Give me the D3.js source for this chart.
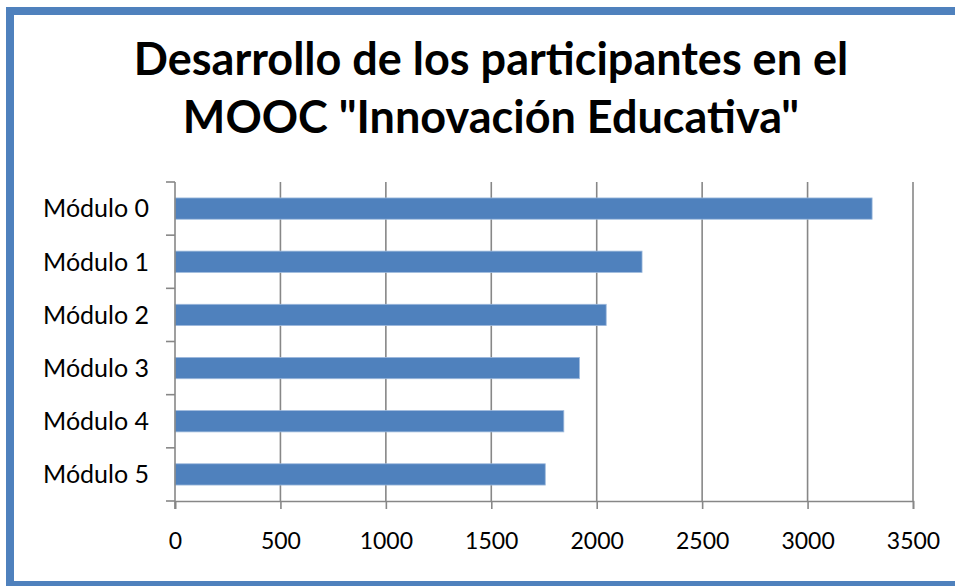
<!DOCTYPE html>
<html lang="es">
<head>
<meta charset="UTF-8">
<title>MOOC Innovación Educativa</title>
<script src="https://cdnjs.cloudflare.com/ajax/libs/d3/7.8.5/d3.min.js"></script>
<style>
  body { margin: 0; background: #fff; }
  svg { display: block; }
  .lbl { font-family: Lato, "Liberation Sans", sans-serif; fill: #000; }
</style>
</head>
<body>
<div id="chart"></div>
<script>
// data
var modulos = ["Módulo 0", "Módulo 1", "Módulo 2", "Módulo 3", "Módulo 4", "Módulo 5"];
var participantes = [3306, 2215, 2045, 1918, 1844, 1756];
var xTicks = [0, 500, 1000, 1500, 2000, 2500, 3000, 3500];
var tituloLineas = ["Desarrollo de los participantes en el", "MOOC \"Innovación Educativa\""];

var W = 955, H = 586;
var margin = { top: 182, left: 175, right: 955 - 913, bottom: 586 - 501 };
var width = W - margin.left - margin.right,
    height = H - margin.top - margin.bottom;

var svg = d3.select("#chart").append("svg")
    .attr("width", W)
    .attr("height", H);

// outer frame
svg.append("rect")
    .attr("x", 10).attr("y", 11)
    .attr("width", 960).attr("height", 574)
    .attr("fill", "none")
    .attr("stroke", "#4F81BD")
    .attr("stroke-width", 8);

// title
svg.append("g").selectAll("text")
    .data(tituloLineas)
    .enter().append("text")
    .attr("class", "lbl")
    .attr("x", 491)
    .attr("y", function (d, i) { return 75 + i * 58; })
    .attr("text-anchor", "middle")
    .style("font-size", "45px")
    .style("font-weight", "bold")
    .text(function (d) { return d; });

var g = svg.append("g")
    .attr("transform", "translate(" + margin.left + "," + margin.top + ")");

var x = d3.scaleLinear().domain([0, 3500]).range([0, width]);
var y = d3.scaleBand().domain(modulos).range([0, height])
    .paddingInner(0.6).paddingOuter(0.3);

var grey = "#878787";

// vertical gridlines
g.selectAll(".grid")
    .data(xTicks.slice(1))
    .enter().append("line")
    .attr("x1", function (d) { return x(d); })
    .attr("x2", function (d) { return x(d); })
    .attr("y1", 0).attr("y2", height)
    .attr("stroke", grey)
    .attr("stroke-width", 1.6);

// bars
g.selectAll(".bar")
    .data(participantes)
    .enter().append("rect")
    .attr("x", x(0))
    .attr("y", function (d, i) { return y(modulos[i]); })
    .attr("width", function (d) { return x(d) - x(0); })
    .attr("height", y.bandwidth())
    .attr("fill", "#4F81BD")
    .attr("stroke", "#9DB9DC")
    .attr("stroke-width", 0.8);

// x axis
var xAxis = g.append("g")
    .attr("transform", "translate(0," + height + ")")
    .call(d3.axisBottom(x).tickValues(xTicks).tickFormat(d3.format("d"))
        .tickSize(8).tickPadding(24));
xAxis.select(".domain").attr("stroke", grey).attr("stroke-width", 1.6);
xAxis.selectAll(".tick line").attr("stroke", grey).attr("stroke-width", 1.6);
xAxis.selectAll("text").attr("class", "lbl").attr("fill", "#000")
    .style("font-size", "23px");

// y axis with ticks on category boundaries
var yAxisG = g.append("g");
yAxisG.append("line")
    .attr("x1", 0).attr("x2", 0)
    .attr("y1", 0).attr("y2", height + 8)
    .attr("stroke", grey).attr("stroke-width", 1.6);
var limites = modulos.map(function (m) { return y(m) - y.step() * y.paddingInner() / 2; });
limites.push(height);
yAxisG.selectAll(".ytick")
    .data(limites)
    .enter().append("line")
    .attr("x1", -9).attr("x2", 0)
    .attr("y1", function (d) { return d; })
    .attr("y2", function (d) { return d; })
    .attr("stroke", grey).attr("stroke-width", 1.6);

yAxisG.selectAll(".ylab")
    .data(modulos)
    .enter().append("text")
    .attr("class", "lbl")
    .attr("x", -26)
    .attr("y", function (d) { return y(d) + y.bandwidth() / 2; })
    .attr("dy", "0.35em")
    .attr("text-anchor", "end")
    .style("font-size", "25px")
    .text(function (d) { return d; });
</script>
</body>
</html>
